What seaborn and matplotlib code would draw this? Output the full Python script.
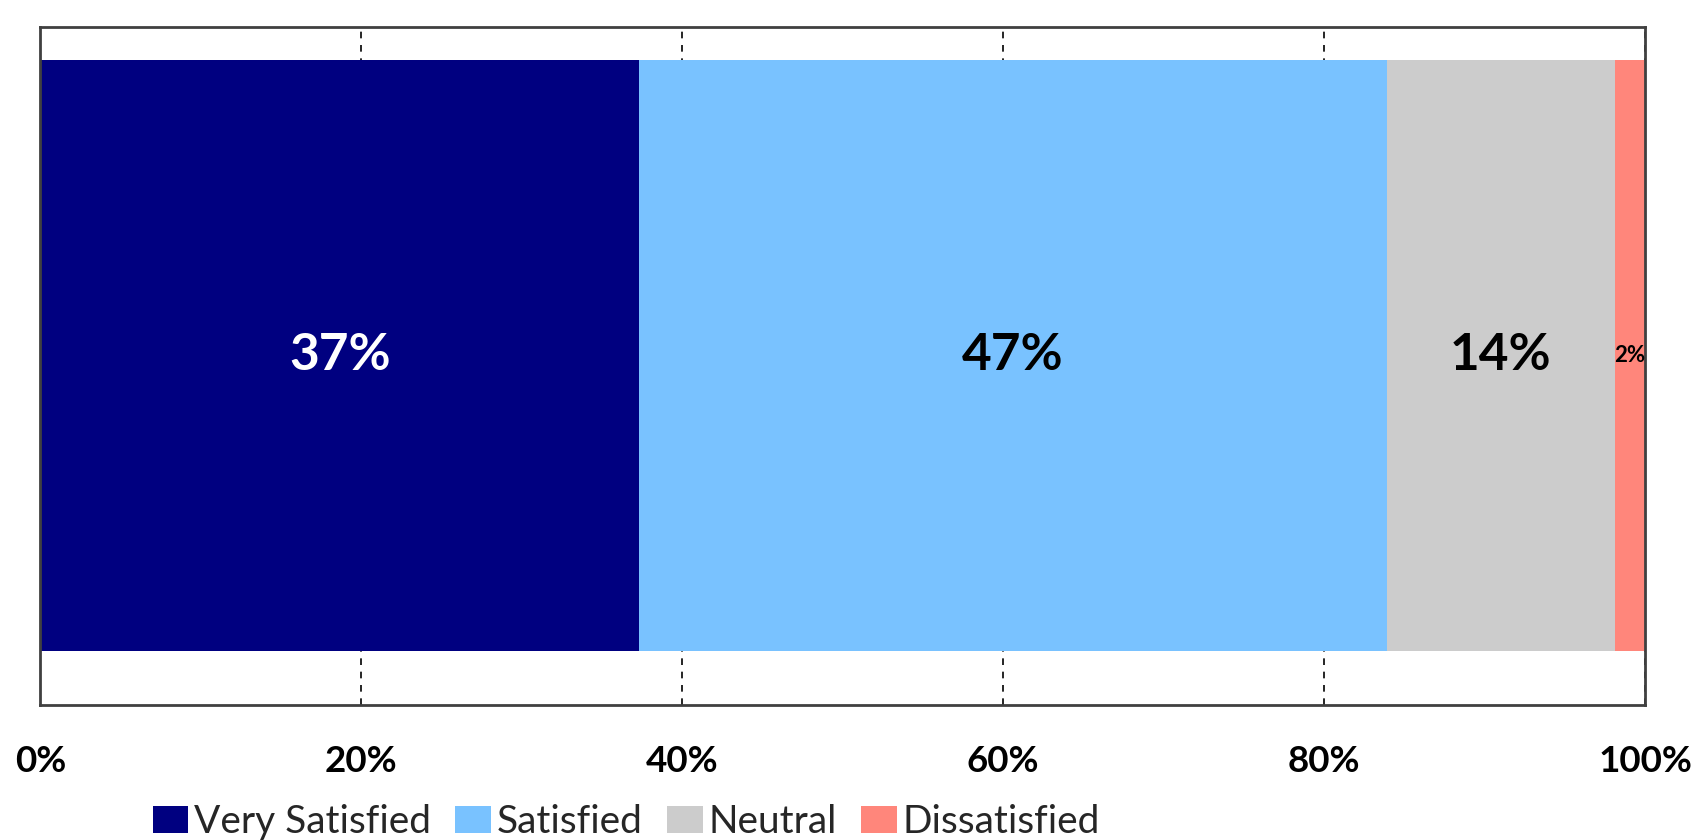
import matplotlib
matplotlib.use("Agg")
import matplotlib.pyplot as plt
from matplotlib.patches import Patch
import numpy as np
import pandas as pd
import seaborn as sns

# Survey satisfaction shares (percent of respondents)
categories = ["Very Satisfied", "Satisfied", "Neutral", "Dissatisfied"]
shares = [37.3, 46.6, 14.2, 1.9]
colors = ["#000080", "#79C2FF", "#CCCCCC", "#FF867B"]
label_colors = ["white", "black", "black", "black"]
label_sizes = [37, 37, 37, 16]
tick_values = [0, 20, 40, 60, 80, 100]
tick_labels = ["0%", "20%", "40%", "60%", "80%", "100%"]

sns.set_theme(style="white")
plt.rcParams["font.family"] = ["Lato", "DejaVu Sans"]

fig = plt.figure(figsize=(17.07, 8.4), dpi=100)
ax = fig.add_axes([0.0237, 0.1607, 0.94, 0.8071])

ends = np.cumsum(shares)
starts = ends - np.array(shares)
df = pd.DataFrame({"group": ["All"] * len(categories),
                   "category": categories,
                   "end": ends})

# Stacked bar: draw cumulative totals from the longest to the shortest
for i in range(len(categories) - 1, -1, -1):
    sns.barplot(data=df.iloc[[i]], x="end", y="group", orient="h",
                color=colors[i], saturation=1, width=0.872,
                linewidth=0, ax=ax, zorder=2)

for s, v, c, fs in zip(starts, shares, label_colors, label_sizes):
    ax.text(s + v / 2, 0, f"{v:.0f}%", ha="center", va="center",
            color=c, fontsize=fs, fontweight="bold", zorder=3)

ax.set_xlim(0, 100)
ax.set_ylim(0.5156, -0.4847)
ax.set_xticks(tick_values)
ax.set_xticklabels(tick_labels, fontsize=26.5, fontweight="bold", color="black")
ax.set_yticks([])
ax.set_xlabel("")
ax.set_ylabel("")
ax.tick_params(axis="x", length=0, pad=29)
ax.xaxis.grid(True, linestyle=(0, (4, 4)), color="black", linewidth=1.2)
ax.set_axisbelow(True)
for sp in ax.spines.values():
    sp.set_visible(True)
    sp.set_color("#404040")
    sp.set_linewidth(2)

handles = [Patch(facecolor=c, edgecolor="none") for c in colors]
fig.legend(handles, categories, loc="center left",
           bbox_to_anchor=(0.0894, 0.0214), ncol=4, frameon=False,
           fontsize=28, handlelength=0.92, handleheight=0.69,
           handletextpad=0.15, columnspacing=0.62,
           borderaxespad=0, borderpad=0)

fig.savefig("out.png", dpi=100)
